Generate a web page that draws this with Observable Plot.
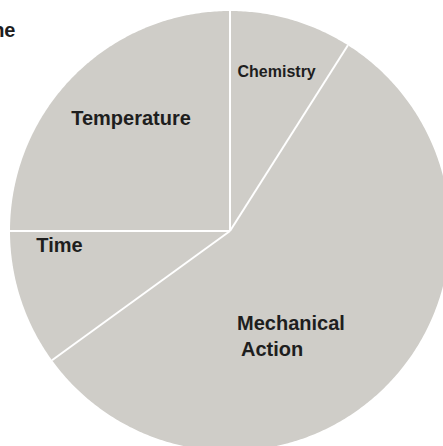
<!DOCTYPE html>
<html>
<head>
<meta charset="utf-8">
<script src="https://cdn.jsdelivr.net/npm/d3@7"></script>
<script src="https://cdn.jsdelivr.net/npm/@observablehq/plot@0.6"></script>
<style>
  html, body { margin: 0; padding: 0; background: #fff; overflow: hidden; }
  #chart svg { display: block; }
</style>
</head>
<body>
<div id="chart"></div>
<script>
// Data (clockwise from 12 o'clock)
const categories = ["Chemistry", "Mechanical Action", "Time", "Temperature"];
const shares = [9, 56, 10, 25];

const sliceFill = "#cfcdc8";
const textColor = "#1e1e1e";
const font = "'Liberation Sans', Arial, Helvetica, sans-serif";

const pie = d3.pie().sort(null).value(d => d.value).startAngle(0).endAngle(2 * Math.PI);
const arcs = pie(categories.map((c, i) => ({category: c, value: shares[i]})));

// Polygon points in unit-circle coordinates (angle clockwise from top)
const polyPoints = [];
for (const a of arcs) {
  const n = Math.max(8, Math.ceil((a.endAngle - a.startAngle) / 0.01));
  polyPoints.push({category: a.data.category, x: 0, y: 0});
  for (let k = 0; k <= n; k++) {
    const t = a.startAngle + (a.endAngle - a.startAngle) * k / n;
    polyPoints.push({category: a.data.category, x: Math.sin(t), y: Math.cos(t)});
  }
  polyPoints.push({category: a.data.category, x: 0, y: 0});
}
const separators = arcs.map(a => ({x1: 0, y1: 0, x2: Math.sin(a.startAngle), y2: Math.cos(a.startAngle)}));

const cx = 229.5, cy = 230.5, R = 220;
const W = 443, H = 446;

const chart = Plot.plot({
  width: W,
  height: H,
  margin: 0,
  style: {overflow: "hidden", background: "#fff"},
  x: {domain: [-1, 1], range: [cx - R, cx + R], axis: null},
  y: {domain: [-1, 1], range: [cy + R, cy - R], axis: null},
  marks: [
    Plot.line(polyPoints, {x: "x", y: "y", z: "category", fill: sliceFill, stroke: "none", curve: "linear"}),
    Plot.link(separators, {x1: "x1", y1: "y1", x2: "x2", y2: "y2", stroke: "#fff", strokeWidth: 2}),
    Plot.text([categories[3]], {x: -0.45, y: 0.511, text: d => d, fontSize: 20, fontWeight: 700, fill: textColor, fontFamily: font}),
    Plot.text([categories[0]], {x: 0.212, y: 0.725, text: d => d, fontSize: 16, fontWeight: 700, fill: textColor, fontFamily: font}),
    Plot.text([categories[2]], {x: -0.775, y: -0.066, text: d => d, fontSize: 20, fontWeight: 700, fill: textColor, fontFamily: font}),
    Plot.text([categories[1].split(" ")[0]], {x: 0.032, y: -0.423, text: d => d, textAnchor: "start", fontSize: 20, fontWeight: 700, fill: textColor, fontFamily: font}),
    Plot.text([categories[1].split(" ")[1]], {x: 0.05, y: -0.541, text: d => d, textAnchor: "start", fontSize: 20, fontWeight: 700, fill: textColor, fontFamily: font}),
    Plot.text(["ne"], {x: -0.975, y: 0.911, text: d => d, textAnchor: "end", fontSize: 20, fontWeight: 700, fill: textColor, fontFamily: font})
  ]
});
document.getElementById("chart").appendChild(chart);
</script>
</body>
</html>
